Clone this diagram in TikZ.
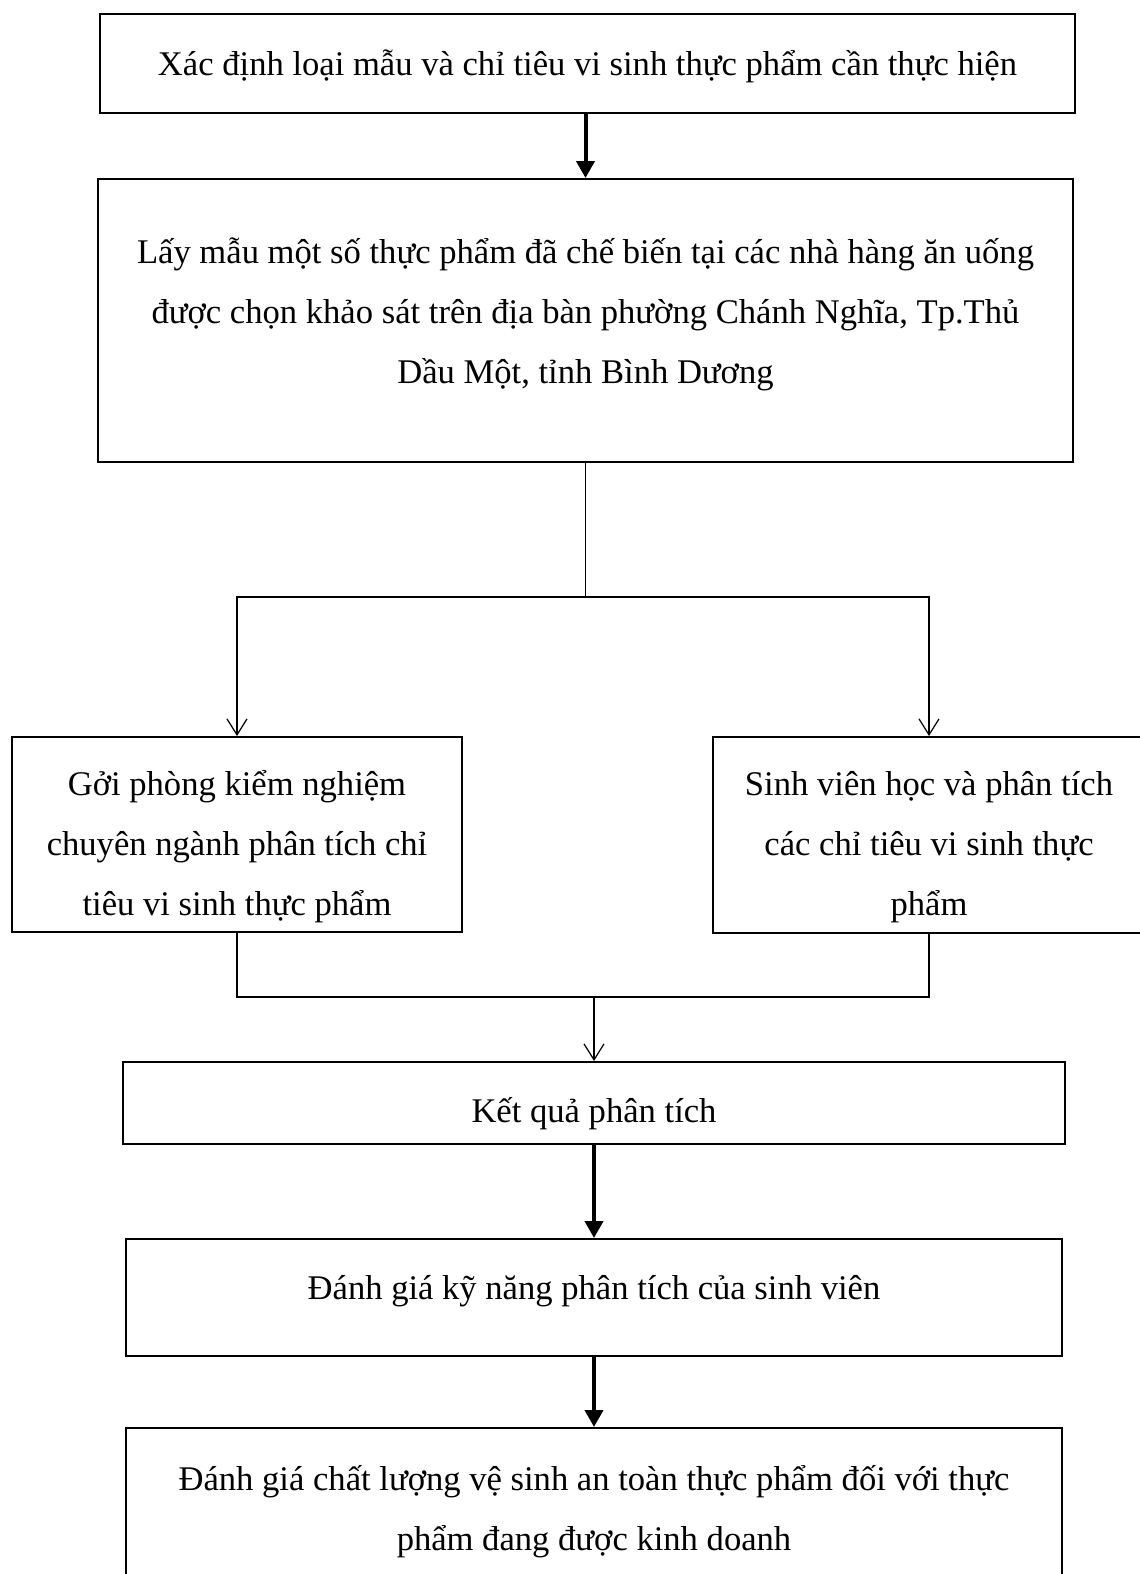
\documentclass[tikz,border=0pt]{standalone}
\usepackage{fontspec}
\setmainfont{Liberation Serif}
\usetikzlibrary{arrows.meta}
\begin{document}
\begin{tikzpicture}[x=0.5pt,y=-0.5pt,
  box/.style={draw, line width=1pt, rectangle, inner sep=0pt},
  txt/.style={inner sep=0pt, align=center, font=\fontsize{17.3}{30}\selectfont},
  thinline/.style={line width=0.6pt},
  thinarrow/.style={line width=0.6pt, -{Straight Barb[length=8pt,width=10pt,line width=0.6pt]}},
  thickarrow/.style={line width=2pt, -{Triangle[length=8.5pt,width=9pt]}}]
\useasboundingbox (0,0) rectangle (1140,1574);
% boxes
\node[box, minimum width=487.5pt, minimum height=49.5pt] (b1) at (587.5,63.5) {};
\node[box, minimum width=487.5pt, minimum height=141.5pt] (b2) at (585.5,320.5) {};
\node[box, minimum width=225pt, minimum height=97.5pt] (left) at (237,834.5) {};
\node[box, minimum width=216pt, minimum height=98pt] (right) at (929,835) {};
\node[box, minimum width=471pt, minimum height=41pt] (kq) at (594,1103) {};
\node[box, minimum width=468pt, minimum height=58.5pt] (kn) at (594,1297.5) {};
\node[box, minimum width=468pt, minimum height=86pt] (cl) at (594,1514) {};
% texts
\node[txt] (t1) at (587.5,66)
  {Xác định loại mẫu và chỉ tiêu vi sinh thực phẩm cần thực hiện};
\node[txt] (t2) at (585.5,314.5)
  {Lấy mẫu một số thực phẩm đã chế biến tại các nhà hàng ăn uống\\
   được chọn khảo sát trên địa bàn phường Chánh Nghĩa, Tp.Thủ\\
   Dầu Một, tỉnh Bình Dương};
\node[txt] (tl) at (237,847)
  {Gởi phòng kiểm nghiệm\\
   chuyên ngành phân tích chỉ\\
   tiêu vi sinh thực phẩm};
\node[txt] (tr) at (929,847)
  {Sinh viên học và phân tích\\
   các chỉ tiêu vi sinh thực\\
   phẩm};
\node[txt] (tkq) at (594,1114) {Kết quả phân tích};
\node[txt] (tkn) at (594,1291.5) {Đánh giá kỹ năng phân tích của sinh viên};
\node[txt] (tcl) at (594,1512)
  {Đánh giá chất lượng vệ sinh an toàn thực phẩm đối với thực\\
   phẩm đang được kinh doanh};
% connectors
\coordinate (split) at (585.5,597);
\coordinate (merge) at (594,997);
\draw[thickarrow] (b1.south -| b2.north) -- (b2.north);
\draw[thinline] (b2.south) -- (split);
\draw[thinarrow] (split) -| (left.north);
\draw[thinarrow] (split) -| (right.north);
\draw[thinline] (left.south) |- (merge);
\draw[thinline] (right.south) |- (merge);
\draw[thinarrow] (merge) -- (kq.north);
\draw[thickarrow] (kq.south) -- (kn.north);
\draw[thickarrow] (kn.south) -- (cl.north);
\end{tikzpicture}
\end{document}
